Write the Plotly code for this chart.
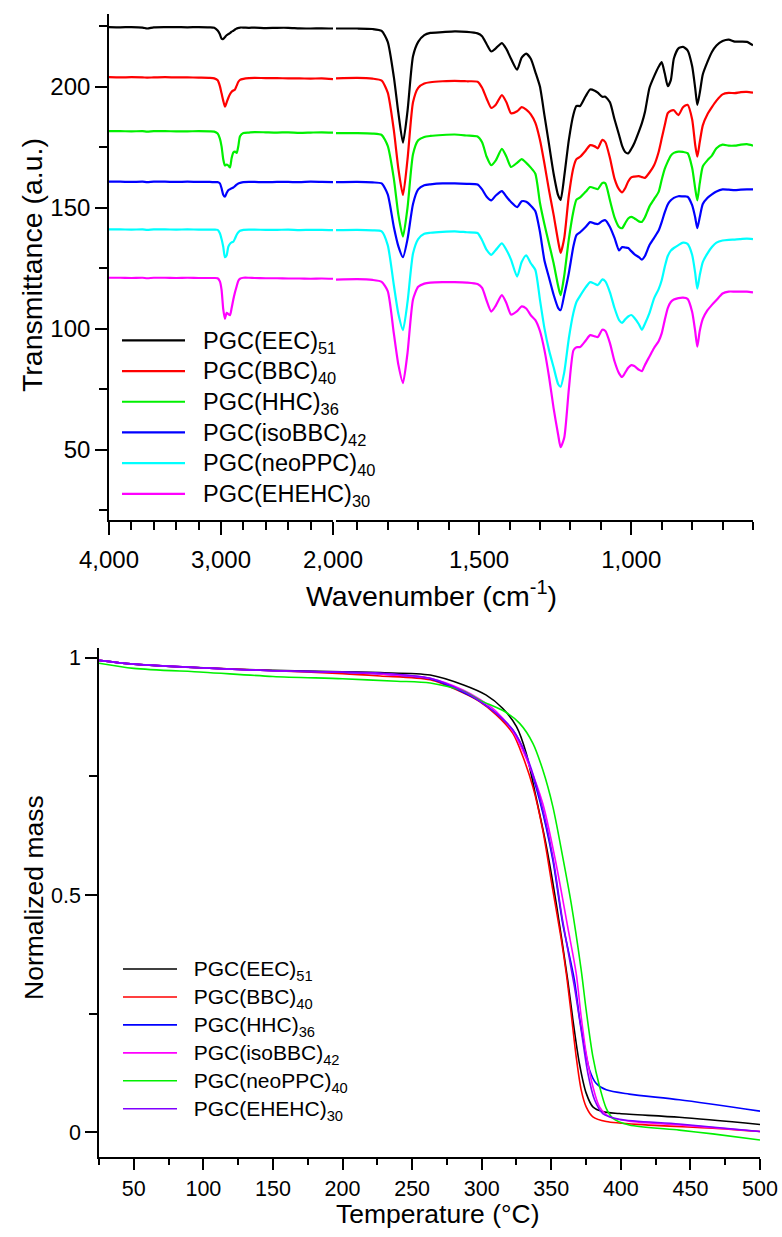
import plotly.graph_objects as go

W, H = 782, 1237
FONT = "Liberation Sans, Arial, sans-serif"

# ---------------- FTIR spectra (offset for clarity) ----------------
# Wavenumber grid for the 4000-2000 cm-1 segment and the 1970-600 cm-1 segment
wavenumber_hi = [4000, 3900, 3800, 3700, 3660, 3600, 3500, 3400, 3300, 3200,
                 3100, 3060, 3030, 3010, 2995, 2980, 2965, 2950, 2935, 2920,
                 2905, 2890, 2875, 2860, 2845, 2830, 2800, 2750, 2700, 2600,
                 2500, 2400, 2300, 2200, 2100, 2000]
wavenumber_lo = [1970, 1900, 1850, 1820, 1800, 1780, 1765, 1750, 1735, 1717,
                 1700, 1680, 1660, 1620, 1580, 1540, 1505, 1490, 1475, 1460,
                 1445, 1425, 1410, 1395, 1375, 1360, 1345, 1330, 1315, 1300,
                 1285, 1270, 1255, 1240, 1232, 1220, 1205, 1190, 1180, 1168,
                 1150, 1135, 1120, 1110, 1095, 1085, 1070, 1055, 1040, 1030,
                 1020, 1010, 1000, 990, 975, 965, 955, 940, 925, 910,
                 900, 890, 880, 870, 860, 845, 830, 815, 800, 790,
                 783, 775, 765, 750, 735, 720, 700, 680, 660, 640,
                 620, 600]

eec_hi = [224.6, 224.5, 224.6, 224.4, 224.0, 224.5, 224.6, 224.6, 224.5, 224.6,
          224.5, 224.3, 223.2, 221.6, 219.8, 219.7, 220.4, 221.2, 221.7, 222.1,
          222.7, 223.1, 223.6, 224.0, 224.2, 224.4, 224.4, 224.3, 224.4, 224.2,
          224.3, 224.3, 224.1, 224.0, 224.1, 224.0]
eec_lo = [224.0, 224.0, 223.8, 223.0, 218.5, 204.0, 189.0, 176.8, 190.0, 212.5,
          218.5, 221.3, 222.2, 222.5, 222.8, 222.6, 222.0, 220.8, 217.5, 214.5,
          215.8, 218.0, 215.5, 211.5, 207.0, 212.0, 213.6, 211.5, 206.0, 200.0,
          188.0, 176.0, 164.0, 155.0, 153.2, 163.0, 178.0, 188.5, 192.0, 192.0,
          196.0, 198.8, 198.3, 197.5, 195.8, 195.8, 193.5, 186.5, 180.0, 175.5,
          173.0, 172.4, 174.2, 176.6, 181.4, 184.9, 189.5, 199.5, 204.2, 208.2,
          210.1, 205.5, 200.2, 202.7, 211.6, 215.8, 216.4, 215.0, 208.5, 199.5,
          192.4, 197.3, 205.0, 210.1, 214.3, 217.0, 218.8, 219.4, 218.6, 218.6,
          218.5, 217.1]

bbc_hi = [203.9, 203.8, 203.9, 203.8, 203.7, 203.8, 203.9, 203.8, 203.8, 203.7,
          203.6, 203.4, 202.6, 200.2, 197.2, 194.2, 191.7, 193.4, 195.3, 196.8,
          197.9, 198.4, 198.8, 200.4, 202.0, 202.8, 203.2, 203.5, 203.6, 203.5,
          203.5, 203.4, 203.4, 203.3, 203.4, 203.1]
bbc_lo = [203.4, 203.6, 203.3, 202.5, 197.5, 182.0, 166.0, 155.2, 170.0, 193.5,
          199.5, 201.3, 201.8, 202.2, 202.4, 202.2, 202.0, 199.5, 195.0, 191.2,
          192.5, 196.5, 193.5, 189.0, 189.8, 191.5, 190.5, 188.5, 185.0, 178.0,
          168.0, 157.0, 147.0, 136.0, 131.3, 137.5, 155.0, 166.5, 170.0, 171.0,
          173.5, 175.8, 175.3, 174.5, 178.0, 177.0, 170.5, 162.0, 157.5, 156.3,
          158.0, 160.8, 162.5, 162.8, 163.0, 162.6, 162.3, 164.5, 167.5, 173.0,
          178.5, 184.0, 189.0, 190.0, 190.2, 188.2, 191.5, 192.5, 186.5, 176.0,
          171.0, 177.0, 184.0, 188.5, 191.5, 194.2, 196.8, 197.4, 197.3, 197.7,
          197.8, 197.5]

hhc_hi = [181.6, 181.6, 181.5, 181.6, 181.4, 181.6, 181.6, 181.5, 181.5, 181.6,
          181.5, 181.4, 180.6, 178.5, 175.3, 170.0, 167.4, 167.8, 167.4, 166.6,
          170.5, 172.8, 173.1, 172.6, 175.5, 179.5, 180.8, 181.0, 181.2, 181.1,
          181.0, 181.1, 180.9, 181.0, 181.1, 181.0]
hhc_lo = [180.8, 180.8, 180.6, 180.0, 175.5, 162.0, 147.0, 138.0, 150.0, 172.0,
          177.8, 179.2, 179.6, 180.0, 180.2, 179.8, 179.4, 177.0, 171.0, 167.5,
          169.5, 174.3, 171.0, 166.8, 168.5, 170.0, 168.5, 166.5, 164.0, 152.0,
          143.0, 135.0, 127.0, 117.5, 113.8, 122.0, 137.0, 148.5, 153.3, 154.2,
          156.5, 158.5, 158.0, 157.6, 160.2, 160.0, 153.0, 146.0, 142.0, 141.5,
          143.5, 145.5, 146.2, 145.6, 144.3, 144.1, 146.0, 150.5, 153.5, 156.5,
          161.5, 166.0, 169.0, 171.5, 172.6, 173.1, 173.0, 172.5, 166.5, 158.0,
          153.0, 160.0, 167.0, 169.5, 171.5, 174.5, 176.0, 175.6, 175.6, 176.0,
          176.2, 175.6]

isobbc_hi = [160.7, 160.7, 160.6, 160.7, 160.5, 160.7, 160.7, 160.6, 160.7, 160.6,
             160.6, 160.5, 160.5, 160.0, 158.0, 155.3, 154.5, 156.0, 157.2, 157.6,
             158.0, 158.3, 158.9, 159.5, 160.0, 160.2, 160.5, 160.6, 160.6, 160.5,
             160.6, 160.6, 160.5, 160.7, 160.6, 160.5]
isobbc_lo = [160.5, 160.6, 160.4, 160.0, 155.5, 142.0, 134.0, 129.5, 137.0, 151.5,
             157.5, 159.2, 159.6, 160.0, 160.0, 159.8, 159.5, 157.5, 154.5, 153.0,
             155.0, 156.8, 154.5, 152.3, 150.2, 152.6, 152.4, 150.8, 148.5, 140.0,
             128.0, 121.0, 114.0, 108.5, 107.6, 114.0, 123.0, 134.0, 138.6, 139.8,
             142.0, 144.0, 143.4, 143.2, 144.5, 144.8, 142.0, 137.5, 132.3, 133.7,
             133.5, 133.3, 132.0, 130.8, 129.5, 128.5, 130.0, 134.5, 137.5, 140.5,
             144.0, 148.0, 151.3, 153.0, 154.0, 154.7, 154.6, 154.5, 151.0, 146.0,
             141.5, 146.0, 151.5, 154.0, 155.5, 156.7, 157.5, 157.4, 157.2, 157.4,
             157.5, 157.5]

neoppc_hi = [141.0, 141.0, 140.9, 141.0, 140.8, 141.0, 141.0, 140.9, 141.0, 140.9,
             140.9, 140.9, 140.8, 139.4, 137.0, 133.8, 129.5, 130.2, 133.8, 135.0,
             135.6, 135.9, 137.2, 138.8, 139.8, 140.4, 140.8, 140.9, 140.9, 140.8,
             140.8, 140.9, 140.7, 140.8, 140.8, 140.7]
neoppc_lo = [140.7, 140.8, 140.6, 140.2, 134.5, 118.0, 106.0, 99.4, 111.0, 131.0,
             137.0, 139.2, 139.6, 140.0, 140.2, 139.8, 139.5, 136.5, 132.5, 130.5,
             132.5, 135.2, 132.5, 128.5, 121.5, 127.5, 130.3, 127.0, 124.2, 112.0,
             100.0, 91.0, 84.0, 77.0, 76.0, 82.0, 96.0, 106.5, 111.0, 113.5,
             117.0, 119.2, 118.5, 118.0, 120.3, 119.5, 115.0, 108.5, 103.5, 102.4,
             103.8, 105.0, 105.6, 104.5, 101.8, 99.5, 102.0, 106.5, 112.5, 116.3,
             120.0, 125.5, 130.0, 132.2, 133.3, 134.5, 135.5, 135.0, 130.5, 123.0,
             116.5, 122.0, 127.5, 131.0, 133.7, 135.5, 136.4, 136.7, 136.8, 137.0,
             137.2, 137.0]

ehehc_hi = [121.0, 121.0, 120.9, 121.0, 120.8, 121.0, 121.0, 120.9, 121.0, 120.9,
            120.9, 120.9, 120.8, 119.5, 116.0, 108.0, 104.0, 106.5, 106.0, 105.5,
            108.5, 112.0, 115.0, 117.5, 119.8, 120.6, 121.0, 121.0, 120.9, 120.8,
            120.8, 120.7, 120.7, 120.6, 120.7, 120.6]
ehehc_lo = [120.2, 120.4, 120.1, 119.3, 115.5, 98.0, 85.0, 77.5, 90.0, 112.0,
            117.3, 118.6, 119.0, 119.2, 119.2, 119.0, 118.4, 116.8, 111.5, 107.0,
            109.5, 113.8, 110.5, 105.8, 107.2, 109.2, 108.3, 105.5, 103.5, 99.0,
            91.0, 80.0, 67.0, 56.0, 51.0, 55.0, 75.0, 91.0, 92.3, 92.4,
            95.0, 97.3, 96.8, 96.5, 99.5, 99.0, 94.0, 86.5, 81.5, 80.0,
            81.8, 83.8, 84.9, 84.5, 83.0, 82.4, 85.0, 88.5, 92.0, 94.8,
            98.0, 103.5, 108.5, 111.0, 112.0, 112.6, 112.8, 112.3, 107.0, 99.0,
            92.5, 99.0, 104.0, 107.5, 109.8, 111.8, 114.5, 115.3, 115.3, 115.3,
            115.3, 115.0]

ftir_names = ["PGC(EEC)<sub>51</sub>", "PGC(BBC)<sub>40</sub>", "PGC(HHC)<sub>36</sub>",
              "PGC(isoBBC)<sub>42</sub>", "PGC(neoPPC)<sub>40</sub>", "PGC(EHEHC)<sub>30</sub>"]
ftir_colors = ["#000000", "#ff0000", "#00f000", "#0000ff", "#00ffff", "#ff00ff"]
ftir_hi = [eec_hi, bbc_hi, hhc_hi, isobbc_hi, neoppc_hi, ehehc_hi]
ftir_lo = [eec_lo, bbc_lo, hhc_lo, isobbc_lo, neoppc_lo, ehehc_lo]

# ---------------- TGA curves ----------------
tga_eec_t = [25, 50, 100, 150, 200, 227, 263, 287, 303, 315, 325, 332, 339, 346.6,
             353.8, 361.8, 365.4, 370.2, 375.1, 379.9, 387, 399, 442, 500]
tga_eec_m = [0.995, 0.987, 0.979, 0.974, 0.971, 0.969, 0.964, 0.943, 0.922, 0.894,
             0.855, 0.799, 0.707, 0.601, 0.478, 0.321, 0.240, 0.145, 0.082, 0.053,
             0.043, 0.039, 0.031, 0.016]

tga_bbc_t = [25, 50, 100, 150, 200, 227, 263, 287, 298.5, 310.5, 322.4, 329.6, 336.8,
             343.9, 351.1, 357, 361, 364.3, 367.9, 371.5, 375.1, 379.9, 389.5, 418,
             466, 500]
tga_bbc_m = [0.995, 0.987, 0.979, 0.973, 0.967, 0.962, 0.954, 0.926, 0.908, 0.880,
             0.841, 0.792, 0.728, 0.637, 0.511, 0.410, 0.330, 0.250, 0.159, 0.089,
             0.053, 0.032, 0.022, 0.015, 0.008, 0.001]

tga_hhc_t = [25, 50, 100, 150, 200, 227, 263, 287, 298.5, 310.5, 322.4, 332, 341.6,
             351.1, 358.2, 366.6, 370.2, 373.9, 377.5, 382.2, 389.5, 406, 442, 500]
tga_hhc_m = [0.995, 0.987, 0.979, 0.973, 0.970, 0.966, 0.956, 0.927, 0.909, 0.883,
             0.848, 0.792, 0.700, 0.574, 0.440, 0.321, 0.243, 0.180, 0.131, 0.103,
             0.089, 0.080, 0.068, 0.044]

tga_isobbc_t = [25, 50, 100, 150, 200, 227, 263, 287, 298.5, 310.5, 322.4, 332, 343.9,
                353.4, 361.8, 367.9, 371.5, 375.1, 379.9, 384.7, 391.8, 406, 442, 500]
tga_isobbc_m = [0.995, 0.987, 0.979, 0.973, 0.970, 0.966, 0.957, 0.932, 0.913, 0.887,
                0.845, 0.788, 0.693, 0.567, 0.433, 0.335, 0.243, 0.166, 0.096, 0.053,
                0.032, 0.023, 0.015, 0.001]

tga_neoppc_t = [25, 50, 100, 150, 200, 239, 263, 287, 298.5, 316.5, 327.3, 336.8,
                343.9, 351.1, 358.2, 364.3, 371.5, 375.1, 379.9, 384.7, 389.5, 394.3,
                406, 442, 466, 500]
tga_neoppc_m = [0.989, 0.978, 0.970, 0.961, 0.956, 0.951, 0.947, 0.930, 0.911, 0.887,
                0.862, 0.820, 0.764, 0.687, 0.581, 0.483, 0.342, 0.257, 0.159, 0.096,
                0.050, 0.029, 0.015, 0.004, -0.004, -0.017]

tga_ehehc_t = [25, 50, 100, 150, 200, 227, 263, 287, 298.5, 310.5, 322.4, 332, 341.6,
               351.1, 357.7, 366.6, 371.5, 376.3, 381.1, 387, 399, 442, 500]
tga_ehehc_m = [0.995, 0.987, 0.979, 0.973, 0.970, 0.968, 0.957, 0.929, 0.909, 0.883,
               0.848, 0.795, 0.707, 0.581, 0.454, 0.307, 0.215, 0.124, 0.068, 0.039,
               0.027, 0.017, 0.001]

tga_names = ["PGC(EEC)<sub>51</sub>", "PGC(BBC)<sub>40</sub>", "PGC(HHC)<sub>36</sub>",
             "PGC(isoBBC)<sub>42</sub>", "PGC(neoPPC)<sub>40</sub>", "PGC(EHEHC)<sub>30</sub>"]
tga_colors = ["#000000", "#ff0000", "#0000ff", "#ff00ff", "#00f000", "#8000ff"]
tga_t = [tga_eec_t, tga_bbc_t, tga_hhc_t, tga_isobbc_t, tga_neoppc_t, tga_ehehc_t]
tga_m = [tga_eec_m, tga_bbc_m, tga_hhc_m, tga_isobbc_m, tga_neoppc_m, tga_ehehc_m]

# gap between legend sample line and its label
PAD = "\u00a0\u00a0"


def legend_label(name, size):
    # label drawn a bit larger than the legend's row pitch font
    return '<span style="font-size:%gpx">%s%s</span>' % (size, PAD, name)


def px(x):
    return x / W


def py(y):
    return 1 - y / H


fig = go.Figure()

for name, color, yh, yl in zip(ftir_names, ftir_colors, ftir_hi, ftir_lo):
    label = legend_label(name, 23.5)
    fig.add_trace(go.Scatter(x=wavenumber_hi, y=yh, xaxis="x", yaxis="y", mode="lines",
                             line=dict(color=color, width=2.2, shape="spline", smoothing=0.6),
                             name=label, legendgroup=name, legend="legend",
                             showlegend=True))
    fig.add_trace(go.Scatter(x=wavenumber_lo, y=yl, xaxis="x2", yaxis="y", mode="lines",
                             line=dict(color=color, width=2.2, shape="spline", smoothing=0.6),
                             name=label, legendgroup=name, legend="legend",
                             showlegend=False))

for name, color, t, m in zip(tga_names, tga_colors, tga_t, tga_m):
    fig.add_trace(go.Scatter(x=t, y=m, xaxis="x3", yaxis="y2", mode="lines",
                             line=dict(color=color, width=1.6, shape="spline", smoothing=0.8),
                             name=legend_label(name, 21), legend="legend2"))

axis_common = dict(showline=True, linecolor="black", linewidth=1.6, ticks="outside",
                   tickcolor="black", tickwidth=1.6, showgrid=False, zeroline=False,
                   mirror=False)

top_y0, top_y1 = 14, 520
bot_y0, bot_y1 = 648, 1157

fig.update_layout(
    width=W, height=H,
    margin=dict(l=0, r=0, t=0, b=0, pad=0, autoexpand=False),
    paper_bgcolor="white", plot_bgcolor="white",
    font=dict(family=FONT, color="black"),
    xaxis=dict(domain=[px(109), px(333)], range=[4000, 2000], anchor="y",
               tickvals=[4000, 3000, 2000], tickformat=",d", ticklen=13,
               tickfont=dict(size=24), ticklabelstandoff=4,
               minor=dict(tickmode="linear", tick0=0, dtick=200, ticklen=8,
                          ticks="outside", tickcolor="black", tickwidth=1.6),
               **axis_common),
    xaxis2=dict(domain=[px(336), px(753)], range=[1970, 600], anchor="y",
                tickvals=[1500, 1000], tickformat=",d", ticklen=13,
                tickfont=dict(size=24), ticklabelstandoff=4,
                minor=dict(tickmode="linear", tick0=0, dtick=100, ticklen=8,
                           ticks="outside", tickcolor="black", tickwidth=1.6),
                **axis_common),
    yaxis=dict(domain=[py(top_y1), py(top_y0)], range=[20.9, 230], anchor="x",
               tickvals=[50, 100, 150, 200], ticklen=12, tickfont=dict(size=24),
               minor=dict(tickmode="linear", tick0=0, dtick=25, ticklen=8,
                          ticks="outside", tickcolor="black", tickwidth=1.6),
               **axis_common),
    xaxis3=dict(domain=[px(99), px(760)], range=[25, 500], anchor="y2",
                tickvals=list(range(50, 501, 50)), ticklen=11, tickfont=dict(size=21.5),
                minor=dict(tickmode="linear", tick0=0, dtick=25, ticklen=6,
                           ticks="outside", tickcolor="black", tickwidth=1.6),
                **axis_common),
    yaxis2=dict(domain=[py(bot_y1), py(bot_y0)], range=[-0.0527, 1.021], anchor="x3",
                tickvals=[0, 0.5, 1], ticktext=["0", "0.5", "1"], ticklen=12,
                tickfont=dict(size=21.5),
                minor=dict(tickmode="linear", tick0=0, dtick=0.25, ticklen=8,
                           ticks="outside", tickcolor="black", tickwidth=1.6),
                **axis_common),
    legend=dict(x=px(117), y=py(320), xanchor="left", yanchor="top",
                bgcolor="rgba(0,0,0,0)", font=dict(size=21.3, family=FONT),
                itemwidth=63, tracegroupgap=0),
    legend2=dict(x=px(118), y=py(950), xanchor="left", yanchor="top",
                 bgcolor="rgba(0,0,0,0)", font=dict(size=19.2, family=FONT),
                 itemwidth=54, tracegroupgap=0),
    showlegend=True,
    annotations=[
        dict(text="Wavenumber (cm<sup>-1</sup>)", x=px(431), y=py(594), xref="paper",
             yref="paper", showarrow=False, font=dict(size=28.5), xanchor="center",
             yanchor="middle"),
        dict(text="Transmittance (a.u.)", x=px(32), y=py(265), xref="paper",
             yref="paper", showarrow=False, font=dict(size=28.5), textangle=-90,
             xanchor="center", yanchor="middle"),
        dict(text="Temperature (°C)", x=px(438), y=py(1214), xref="paper",
             yref="paper", showarrow=False, font=dict(size=26.5), xanchor="center",
             yanchor="middle"),
        dict(text="Normalized mass", x=px(34), y=py(898), xref="paper",
             yref="paper", showarrow=False, font=dict(size=26.5), textangle=-90,
             xanchor="center", yanchor="middle"),
    ],
)

fig.write_html("out.html")
